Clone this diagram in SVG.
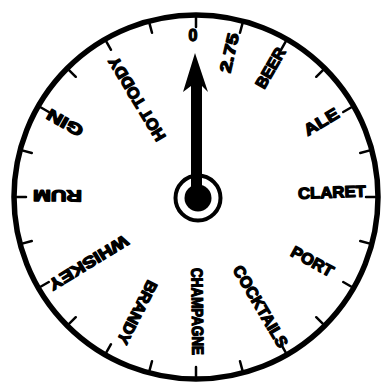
<svg xmlns="http://www.w3.org/2000/svg" width="390" height="383" viewBox="0 0 390 383">
<style>
.rim{fill:none;stroke:#000;stroke-width:5.5}
.tick{stroke:#000;stroke-width:2.5;stroke-linecap:round}
.lbl{font-family:"Liberation Sans",Arial,sans-serif;font-weight:bold;font-size:16px;fill:#000;stroke:#000;stroke-width:1.3;stroke-linejoin:round}
</style>
<rect width="390" height="383" fill="#fff"/>
<g id="dial">
<circle class="rim" cx="196" cy="197" r="182"/>
<g id="ticks" transform="translate(196,197)">
<line class="tick" x1="0" y1="-181" x2="0" y2="-170" transform="rotate(0)"/>
<line class="tick" x1="0" y1="-181" x2="0" y2="-170" transform="rotate(15)"/>
<line class="tick" x1="0" y1="-181" x2="0" y2="-170" transform="rotate(30)"/>
<line class="tick" x1="0" y1="-181" x2="0" y2="-170" transform="rotate(45)"/>
<line class="tick" x1="0" y1="-181" x2="0" y2="-170" transform="rotate(60)"/>
<line class="tick" x1="0" y1="-181" x2="0" y2="-170" transform="rotate(75)"/>
<line class="tick" x1="0" y1="-181" x2="0" y2="-170" transform="rotate(90)"/>
<line class="tick" x1="0" y1="-181" x2="0" y2="-170" transform="rotate(105)"/>
<line class="tick" x1="0" y1="-181" x2="0" y2="-170" transform="rotate(120)"/>
<line class="tick" x1="0" y1="-181" x2="0" y2="-170" transform="rotate(135)"/>
<line class="tick" x1="0" y1="-181" x2="0" y2="-170" transform="rotate(150)"/>
<line class="tick" x1="0" y1="-181" x2="0" y2="-170" transform="rotate(165)"/>
<line class="tick" x1="0" y1="-181" x2="0" y2="-170" transform="rotate(180)"/>
<line class="tick" x1="0" y1="-181" x2="0" y2="-170" transform="rotate(195)"/>
<line class="tick" x1="0" y1="-181" x2="0" y2="-170" transform="rotate(210)"/>
<line class="tick" x1="0" y1="-181" x2="0" y2="-170" transform="rotate(225)"/>
<line class="tick" x1="0" y1="-181" x2="0" y2="-170" transform="rotate(240)"/>
<line class="tick" x1="0" y1="-181" x2="0" y2="-170" transform="rotate(255)"/>
<line class="tick" x1="0" y1="-181" x2="0" y2="-170" transform="rotate(270)"/>
<line class="tick" x1="0" y1="-181" x2="0" y2="-170" transform="rotate(285)"/>
<line class="tick" x1="0" y1="-181" x2="0" y2="-170" transform="rotate(300)"/>
<line class="tick" x1="0" y1="-181" x2="0" y2="-170" transform="rotate(315)"/>
<line class="tick" x1="0" y1="-181" x2="0" y2="-170" transform="rotate(330)"/>
<line class="tick" x1="0" y1="-181" x2="0" y2="-170" transform="rotate(345)"/>
</g>
</g>
<g id="labels">
<text id="l0" class="lbl" x="193" y="41" text-anchor="middle">0</text>
<text id="l275" class="lbl" transform="translate(196,197) rotate(-77)" x="128" y="5.5" textLength="40" lengthAdjust="spacingAndGlyphs">2.75</text>
<text id="lbeer" class="lbl" transform="translate(196,197) rotate(-60)" x="127" y="5.5" textLength="44" lengthAdjust="spacingAndGlyphs">BEER</text>
<text id="lale" class="lbl" transform="translate(196,197) rotate(-31)" x="127" y="5.5" textLength="38" lengthAdjust="spacingAndGlyphs">ALE</text>
<text id="lclaret" class="lbl" transform="translate(196,197) rotate(-2)" x="102" y="5.5" textLength="68" lengthAdjust="spacingAndGlyphs">CLARET</text>
<text id="lport" class="lbl" transform="translate(196,197) rotate(29)" x="110" y="5.5" textLength="46" lengthAdjust="spacingAndGlyphs">PORT</text>
<text id="lcocktails" class="lbl" transform="translate(196,197) rotate(59.5)" x="81" y="5.5" textLength="92" lengthAdjust="spacingAndGlyphs">COCKTAILS</text>
<text id="lchampagne" class="lbl" transform="translate(196,197) rotate(89.3)" x="71" y="5.5" textLength="87" lengthAdjust="spacingAndGlyphs">CHAMPAGNE</text>
<text id="lbrandy" class="lbl" transform="translate(196,197) rotate(117)" x="95" y="5.5" textLength="69" lengthAdjust="spacingAndGlyphs">BRANDY</text>
<text id="lwhiskey" class="lbl" transform="translate(196,197) rotate(148.6)" x="81" y="5.5" textLength="90" lengthAdjust="spacingAndGlyphs">WHISKEY</text>
<text id="lrum" class="lbl" transform="translate(196,197) rotate(180.5)" x="114" y="5.5" textLength="49" lengthAdjust="spacingAndGlyphs">RUM</text>
<text id="lgin" class="lbl" transform="translate(196,197) rotate(209.5)" x="131" y="5.5" textLength="39" lengthAdjust="spacingAndGlyphs">GIN</text>
<text id="lhot" class="lbl" transform="translate(196,197) rotate(239)" x="67" y="5.5" textLength="95" lengthAdjust="spacingAndGlyphs">HOT TODDY</text>
</g>
<g id="pointer">
<polygon points="195,53 208,92 202,86 202,190 191,190 191,86 183,92" fill="#000"/>
<circle cx="198" cy="198" r="22.5" fill="none" stroke="#000" stroke-width="4"/>
<circle cx="198" cy="198" r="13.5" fill="#000"/>
</g>
</svg>
